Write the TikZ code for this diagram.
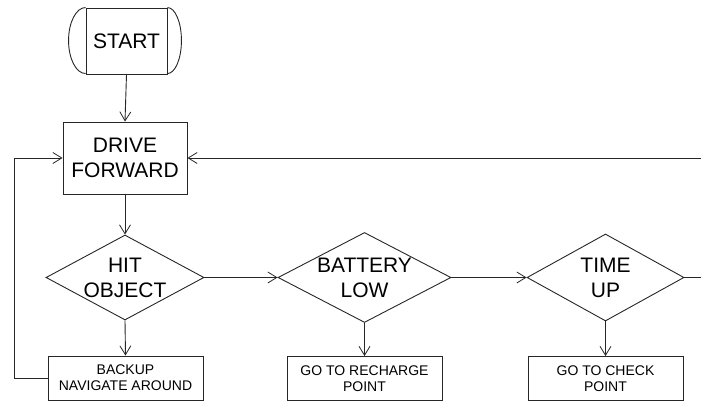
\documentclass[tikz,border=0pt]{standalone}
\usepackage{fontspec}
\setmainfont{Liberation Sans}
\usetikzlibrary{shapes.geometric,arrows.meta}
\begin{document}
\begin{tikzpicture}[x=1pt,y=1pt,
  ln/.style={line width=0.9pt, draw=black!85},
  arr/.style={ln, -{Straight Barb[length=9pt,width=11pt,line width=0.8pt]}},
  bigtxt/.style={font=\fontsize{21}{25}\selectfont, align=center},
  smalltxt/.style={font=\fontsize{14}{16}\selectfont, align=center},
  procbox/.style={ln, rectangle, inner sep=0pt},
  decision/.style={ln, diamond, inner sep=0pt, aspect=1.8}
]
\useasboundingbox (0,0) rectangle (701,401);
% start terminator
\node[procbox, minimum width=81pt, minimum height=66pt, bigtxt] (start) at (126.5,360) {START};
\draw[ln] (start.north west) arc[start angle=90, end angle=270, x radius=17, y radius=33];
\draw[ln] (start.north east) arc[start angle=90, end angle=-90, x radius=14, y radius=33];
% drive forward
\node[procbox, minimum width=124pt, minimum height=72pt, bigtxt] (drive) at (125,243) {DRIVE\\FORWARD};
% decisions
\node[decision, minimum width=158pt, minimum height=85pt, label={[bigtxt]center:HIT\\OBJECT}] (hit) at (125,123.5) {};
\node[decision, minimum width=173pt, minimum height=90pt, label={[bigtxt]center:BATTERY\\LOW}] (bat) at (364.5,123.5) {};
\node[decision, minimum width=157pt, minimum height=87pt, label={[bigtxt]center:TIME\\UP}] (time) at (605.5,123.5) {};
% actions
\node[procbox, minimum width=155pt, minimum height=44pt, smalltxt] (backup) at (125.5,23) {BACKUP\\NAVIGATE AROUND};
\node[procbox, minimum width=155pt, minimum height=44pt, smalltxt] (recharge) at (364.5,22.5) {GO TO RECHARGE\\POINT};
\node[procbox, minimum width=155pt, minimum height=44pt, smalltxt] (check) at (605.5,22.5) {GO TO CHECK\\POINT};
% edge coordinates
\coordinate (topright) at (701,243);
\coordinate (midright) at (701,123.5);
\coordinate (leftx) at (14,0);
% connectors
\draw[arr] (start.south) -- (drive.north);
\draw[arr] (drive.south) -- (hit.north);
\draw[arr] (hit.south) -- (backup.north);
\draw[arr] (hit.east) -- (bat.west);
\draw[arr] (bat.south) -- (recharge.north);
\draw[arr] (bat.east) -- (time.west);
\draw[arr] (time.south) -- (check.north);
\draw[ln] (time.east) -- (midright);
\draw[arr] (topright) -- (drive.east);
\draw[arr] (backup.west) -- (backup.west -| leftx) -- (drive.west -| leftx) -- (drive.west);
\end{tikzpicture}
\end{document}
